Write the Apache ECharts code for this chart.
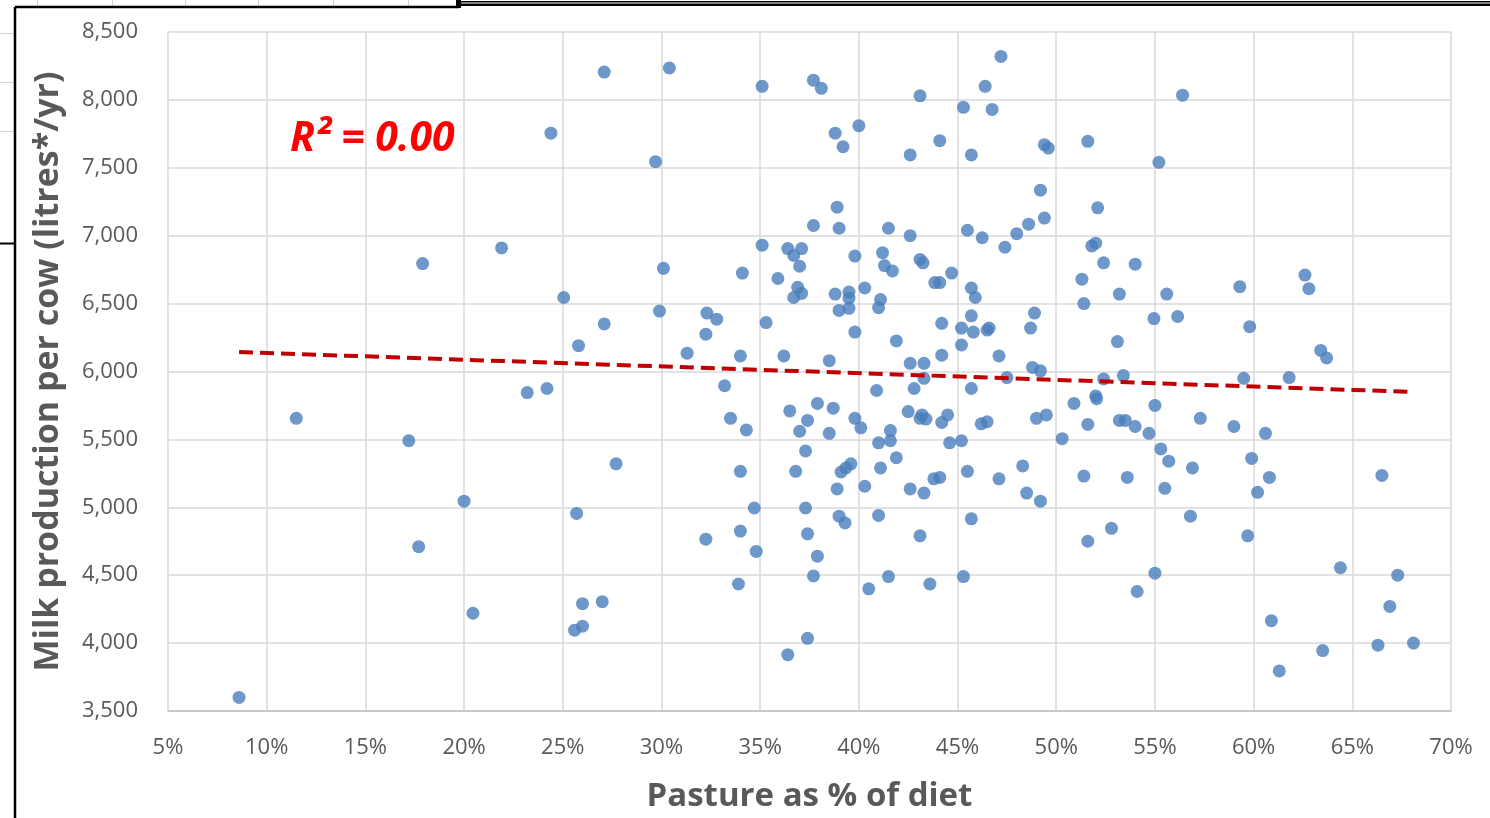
<!DOCTYPE html>
<html>
<head>
<meta charset="utf-8">
<script src="https://cdn.jsdelivr.net/npm/echarts@6/dist/echarts.min.js"></script>
<style>
html,body{margin:0;padding:0;background:#fff;}
#chart{width:1490px;height:818px;}
</style>
</head>
<body>
<div id="chart"></div>
<script>
// Pasture as % of diet (x) and milk production per cow, litres/yr (y)
const pasture = [
  8.6, 11.5, 17.2, 17.9, 17.7, 20.0, 20.45, 21.9, 23.2, 24.2, 24.4, 25.05, 25.8, 25.7, 25.6, 26.0, 26.0, 27.0, 27.1, 27.1,
  27.7, 29.7, 29.9, 30.1, 30.4, 31.3, 32.25, 32.3, 32.8, 32.25, 33.2,
  33.5, 34.3, 34.0, 34.0, 34.7, 34.8, 33.9, 34.1, 34.0, 35.1, 35.3, 35.1, 37.7, 38.1, 38.8, 40.0, 39.2, 38.9, 37.7, 39.0,
  41.5, 36.4, 37.1, 36.7, 37.0, 35.9, 36.9, 37.1, 36.7, 39.8, 41.2, 41.3, 41.7, 40.3, 38.8, 39.5, 39.5, 39.5, 39.0, 41.1,
  41.0, 39.8, 36.2, 38.5, 40.9, 36.5, 37.9, 38.7, 37.4, 37.0, 38.5, 39.8, 40.1, 41.0, 37.3, 36.8, 39.1, 39.6, 39.35, 41.1,
  40.3, 38.9, 37.3, 39.0, 39.3, 41.0, 37.4, 37.9, 37.7, 40.5, 41.5, 37.4, 36.4,
  47.2, 46.4, 43.1, 45.3, 46.75, 44.1, 42.6, 45.7, 49.4, 49.6, 49.2, 49.4, 48.6, 48.0, 47.4, 45.5, 46.25, 42.6, 43.1, 43.25,
  44.7, 43.85, 44.1, 45.7, 45.9, 48.9, 48.7, 44.2, 45.7, 45.2, 45.8, 46.5, 46.6, 41.9, 45.2, 44.2, 47.1, 42.6, 43.3, 48.8,
  49.2, 47.5, 43.3, 42.8, 45.7, 42.5, 43.1, 43.2, 43.4, 44.5, 44.2, 46.2, 46.5, 49.0, 49.5, 41.6, 41.6, 44.6, 45.2, 41.9,
  45.5, 44.1, 43.8, 47.1, 48.3, 42.6, 43.3, 48.5, 49.2, 45.7, 43.1, 43.6, 45.3,
  56.4, 51.6, 55.2, 52.1, 51.8, 52.0, 52.4, 54.0, 51.3, 53.2, 55.6, 51.4, 54.95, 56.15, 53.1, 52.4, 53.4, 50.9, 52.0, 52.05,
  55.0, 57.3, 51.6, 53.2, 53.5, 54.0, 54.7, 50.3, 55.3, 55.7, 56.9, 51.4, 53.6, 55.5, 56.8, 52.8, 51.6, 55.0, 54.1,
  59.3, 62.6, 62.8, 59.8, 63.4, 63.7, 59.5, 61.8, 59.0, 60.6, 59.9, 60.8, 60.2, 66.5, 59.7, 64.4, 67.3, 66.9, 60.9, 63.5,
  66.3, 68.1, 61.3
];
const milk = [
  3600, 5655, 5490, 6795, 4710, 5045, 4220, 6910, 5845, 5875, 7755, 6545, 6190, 4955, 4095, 4290, 4125, 4305, 8205, 6350,
  5320, 7545, 6445, 6760, 8235, 6135, 6275, 6430, 6385, 4765, 5895,
  5655, 5570, 5265, 4825, 4995, 4675, 4435, 6725, 6115, 6930, 6360, 8100, 8145, 8085, 7755, 7810, 7655, 7210, 7075, 7055,
  7055, 6905, 6905, 6855, 6775, 6685, 6620, 6575, 6545, 6850, 6875, 6780, 6740, 6615, 6570, 6585, 6540, 6465, 6450, 6530,
  6470, 6290, 6115, 6080, 5860, 5710, 5765, 5730, 5640, 5560, 5545, 5655, 5585, 5475, 5415, 5265, 5260, 5320, 5290, 5290,
  5155, 5135, 4995, 4935, 4885, 4940, 4805, 4640, 4495, 4400, 4490, 4035, 3915,
  8320, 8100, 8030, 7945, 7930, 7700, 7595, 7595, 7670, 7645, 7335, 7130, 7085, 7015, 6915, 7040, 6985, 7000, 6825, 6800,
  6725, 6655, 6655, 6615, 6545, 6430, 6320, 6355, 6410, 6320, 6290, 6305, 6320, 6225, 6195, 6120, 6115, 6060, 6060, 6030,
  6005, 5955, 5950, 5875, 5875, 5705, 5655, 5680, 5650, 5680, 5625, 5615, 5630, 5655, 5680, 5565, 5490, 5475, 5490, 5365,
  5265, 5220, 5210, 5210, 5305, 5135, 5105, 5105, 5045, 4915, 4790, 4435, 4490,
  8035, 7695, 7540, 7205, 6925, 6945, 6800, 6790, 6680, 6570, 6570, 6500, 6390, 6405, 6220, 5945, 5970, 5765, 5820, 5800,
  5750, 5655, 5610, 5640, 5640, 5595, 5545, 5505, 5430, 5340, 5290, 5230, 5220, 5140, 4935, 4845, 4750, 4515, 4380,
  6625, 6710, 6610, 6330, 6155, 6100, 5950, 5955, 5595, 5545, 5360, 5220, 5110, 5235, 4790, 4555, 4500, 4270, 4165, 3945,
  3985, 4000, 3795
];
// Linear trendline end points
const trendX = [8.6, 68.1];
const trendY = [6143, 5849];
const rSquaredText = 'R² = 0.00';
const xTitle = 'Pasture as % of diet';
const yTitle = 'Milk production per cow (litres*/yr)';

const points = pasture.map((x, i) => [x, milk[i]]);
const trend = trendX.map((x, i) => [x, trendY[i]]);

const FONT = 'Open Sans';
const GREY = '#595959';
const chart = echarts.init(document.getElementById('chart'));

const deco = [];
// Spreadsheet cell lines around the chart object
[37, 112, 185, 258, 333, 408].forEach(x => deco.push({type:'line', shape:{x1:x+0.5,y1:0,x2:x+0.5,y2:7}, style:{stroke:'#d4d4d4', lineWidth:1}, silent:true}));
[33, 82, 131].forEach(y => deco.push({type:'line', shape:{x1:0,y1:y+0.5,x2:14,y2:y+0.5}, style:{stroke:'#d4d4d4', lineWidth:1}, silent:true}));
deco.push({type:'line', shape:{x1:0,y1:243.5,x2:14,y2:243.5}, style:{stroke:'#000', lineWidth:2}, silent:true});
// chart frame
deco.push({type:'line', shape:{x1:15,y1:7,x2:15,y2:818}, style:{stroke:'#000', lineWidth:2.5}, silent:true});
deco.push({type:'line', shape:{x1:15,y1:7,x2:459,y2:7}, style:{stroke:'#000', lineWidth:2.5}, silent:true});
deco.push({type:'rect', shape:{x:456,y:0,width:5,height:8}, style:{fill:'#000'}, silent:true});
deco.push({type:'rect', shape:{x:456,y:1,width:1034,height:5}, style:{fill:'#000'}, silent:true});
deco.push({type:'rect', shape:{x:461,y:2.6,width:1029,height:1}, style:{fill:'#fff'}, silent:true});
// R squared annotation
deco.push({type:'text', left:290, top:119, z:10, style:{text:rSquaredText, fill:'#FF0000', font:'italic bold 41px "Open Sans"'}});

chart.setOption({
  animation: false,
  backgroundColor: '#fff',
  grid: {left:168, right:39, top:32, bottom:105, containLabel:false},
  xAxis: {
    type:'value', min:5, max:70, interval:5,
    name: xTitle, nameLocation:'middle', nameGap:69,
    nameTextStyle:{color:GREY, fontFamily:FONT, fontWeight:'bold', fontSize:33},
    axisLine:{show:true, lineStyle:{color:'#bfbfbf', width:1.5}},
    axisTick:{show:false},
    axisLabel:{color:GREY, fontFamily:FONT, fontSize:22, margin:26, formatter:'{value}%'},
    splitLine:{show:true, lineStyle:{color:'#d9d9d9', width:1.5}}
  },
  yAxis: {
    type:'value', min:3500, max:8500, interval:500,
    name: yTitle, nameLocation:'middle', nameGap:103, nameRotate:90,
    nameTextStyle:{color:GREY, fontFamily:FONT, fontWeight:'bold', fontSize:34},
    axisLine:{show:false},
    axisTick:{show:false},
    axisLabel:{color:GREY, fontFamily:FONT, fontSize:22, margin:30, formatter: v => v.toLocaleString('en-US')},
    splitLine:{show:true, lineStyle:{color:'#d9d9d9', width:1.5}}
  },
  series: [
    {type:'scatter', data:points, symbol:'circle', symbolSize:13, itemStyle:{color:'#4A7EBB'}, z:2},
    {type:'line', data:trend, showSymbol:false, symbol:'none', lineStyle:{color:'#C00000', width:4, type:[14,7]}, z:3}
  ],
  graphic: deco
});
</script>
</body>
</html>
